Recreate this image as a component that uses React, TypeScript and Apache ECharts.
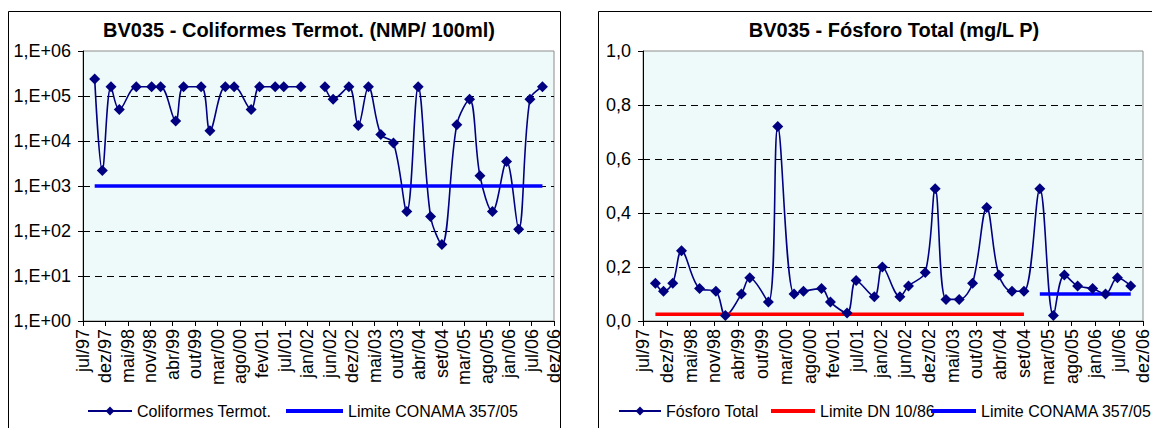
import React, { useEffect, useRef } from "react";
import * as echarts from "echarts";

// ---------- data ----------
const BASE_DATE = "1997-07-01"; // axis origin (jul/97)
const TICK_STEP_DAYS = 165;
const AXIS_END_DAYS = 3465; // dez/06

const tickLabels = [
  "jul/97", "dez/97", "mai/98", "nov/98", "abr/99", "out/99", "mar/00", "ago/00",
  "fev/01", "jul/01", "jan/02", "jun/02", "dez/02", "mai/03", "out/03", "abr/04",
  "set/04", "mar/05", "ago/05", "jan/06", "jul/06", "dez/06",
];

const sampleDates = [
  "1997-09-25", "1997-11-20", "1998-01-23", "1998-03-25", "1998-07-28", "1998-11-18",
  "1999-01-23", "1999-05-14", "1999-07-11", "1999-11-17", "2000-01-21", "2000-05-13",
  "2000-07-17", "2000-11-19", "2001-01-20", "2001-05-15", "2001-07-17", "2001-11-20",
  "2002-01-15", "2002-05-16", "2002-07-15", "2002-11-08", "2003-01-16", "2003-04-01",
  "2003-07-01", "2003-10-02", "2004-01-08", "2004-04-01", "2004-07-01", "2004-09-22",
  "2005-01-10", "2005-04-14", "2005-06-29", "2005-09-29", "2006-01-11", "2006-04-10",
  "2006-07-02", "2006-10-02",
];

const coliformes: (number | null)[] = [
  240000, 2200, 160000, 50000, 160000, 160000,
  160000, 28000, 160000, 160000, 17000, 160000,
  160000, 50000, 160000, 160000, 160000, 160000,
  null, 160000, 85000, 160000, 22000, 160000,
  14000, 9000, 270, 160000, 210, 50,
  23000, 85000, 1700, 270, 3500, 110,
  85000, 160000,
];

const fosforo = [
  0.14, 0.11, 0.14, 0.26, 0.12, 0.11,
  0.02, 0.10, 0.16, 0.07, 0.72, 0.10,
  0.11, 0.12, 0.07, 0.03, 0.15, 0.09,
  0.20, 0.09, 0.13, 0.18, 0.49, 0.08,
  0.08, 0.14, 0.42, 0.17, 0.11, 0.11,
  0.49, 0.02, 0.17, 0.13, 0.12, 0.10,
  0.16, 0.13,
];

const coliConamaLimit = 1000;
const coliConamaDates = ["1997-09-25", "2006-10-02"];
const fosDnLimit = 0.025;
const fosDnDates = ["1997-09-25", "2004-09-22"];
const fosConamaLimit = 0.1;
const fosConamaDates = ["2005-01-10", "2006-10-02"];

const yTicksFosforo = ["0,0", "0,2", "0,4", "0,6", "0,8", "1,0"];

// ---------- helpers ----------
const dayOf = (d: string) =>
  Math.round((Date.parse(d) - Date.parse(BASE_DATE)) / 86400000);

const FONT = "'Liberation Sans', Arial, sans-serif";
const NAVY = "#000080";

const xAxisFor = (gridIndex: number) => ({
  type: "value",
  gridIndex,
  min: 0,
  max: AXIS_END_DAYS,
  interval: TICK_STEP_DAYS,
  axisLine: { show: true, onZero: false, lineStyle: { color: "#000", width: 1 } },
  axisTick: { show: true, length: 5, lineStyle: { color: "#000" } },
  axisLabel: {
    rotate: 90,
    margin: 8,
    fontSize: 18,
    fontFamily: FONT,
    color: "#000",
    showMinLabel: true,
    showMaxLabel: true,
    formatter: (v: number) => tickLabels[Math.round(v / TICK_STEP_DAYS)] ?? "",
  },
  splitLine: { show: false },
});

const splitDash = {
  show: true,
  showMinLine: false,
  showMaxLine: false,
  lineStyle: { color: "#000", type: [7, 5], width: 1 },
};

const gridBase = {
  show: true,
  backgroundColor: "#EEFAFA",
  borderColor: "#8C8C8C",
  borderWidth: 1,
};

const legendFor = (name: string, left: number, itemWidth: number, isLimit: boolean) => ({
  data: [isLimit ? { name, icon: "rect" } : { name }],
  left,
  top: 403,
  itemWidth,
  itemHeight: isLimit ? 4 : 11,
  itemGap: 0,
  padding: 0,
  selectedMode: false,
  textStyle: { fontSize: 16, fontFamily: FONT, color: "#000" },
});

export default function App() {
  const ref = useRef<HTMLDivElement>(null);

  useEffect(() => {
    if (!ref.current) return;
    const chart = echarts.init(ref.current, undefined, { renderer: "svg" });

    const option = {
      animation: false,
      backgroundColor: "#fff",
      textStyle: { fontFamily: FONT },
      grid: [
        { ...gridBase, left: 83, top: 51, width: 471, height: 270 },
        { ...gridBase, left: 643, top: 51, width: 504, height: 270 },
      ],
      xAxis: [xAxisFor(0), xAxisFor(1)],
      yAxis: [
        {
          type: "log",
          gridIndex: 0,
          logBase: 10,
          min: 1,
          max: 1e6,
          axisLine: { show: true, lineStyle: { color: "#000" } },
          axisTick: { show: true, length: 5, lineStyle: { color: "#000" } },
          axisLabel: {
            fontSize: 18,
            fontFamily: FONT,
            color: "#000",
            margin: 12,
            formatter: (v: number) =>
              "1,E+" + String(Math.round(Math.log10(v))).padStart(2, "0"),
          },
          splitLine: splitDash,
        },
        {
          type: "value",
          gridIndex: 1,
          min: 0,
          max: 1,
          interval: 0.2,
          axisLine: { show: true, lineStyle: { color: "#000" } },
          axisTick: { show: true, length: 5, lineStyle: { color: "#000" } },
          axisLabel: {
            fontSize: 18,
            fontFamily: FONT,
            color: "#000",
            margin: 12,
            formatter: (v: number) => yTicksFosforo[Math.round(v / 0.2)] ?? "",
          },
          splitLine: splitDash,
        },
      ],
      legend: [
        legendFor("Coliformes Termot.", 87, 44, false),
        legendFor("Limite CONAMA 357/05", 286, 57, true),
        legendFor("Fósforo Total", 618, 42, false),
        legendFor("Limite DN 10/86", 771, 44, true),
        legendFor("Limite CONAMA 357/05", 931, 45, true),
      ],
      series: [
        {
          name: "Coliformes Termot.",
          type: "line",
          xAxisIndex: 0,
          yAxisIndex: 0,
          data: sampleDates.map((d, i) => [dayOf(d), coliformes[i]]),
          smooth: 0.35,
          connectNulls: false,
          symbol: "diamond",
          symbolSize: 11,
          itemStyle: { color: NAVY },
          lineStyle: { color: NAVY, width: 1.6 },
        },
        {
          name: "Limite CONAMA 357/05",
          type: "line",
          xAxisIndex: 0,
          yAxisIndex: 0,
          data: coliConamaDates.map((d) => [dayOf(d), coliConamaLimit]),
          symbol: "none",
          itemStyle: { color: "#0000FF" },
          lineStyle: { color: "#0000FF", width: 3.5 },
        },
        {
          name: "Fósforo Total",
          type: "line",
          xAxisIndex: 1,
          yAxisIndex: 1,
          data: sampleDates.map((d, i) => [dayOf(d), fosforo[i]]),
          smooth: 0.35,
          symbol: "diamond",
          symbolSize: 11,
          itemStyle: { color: NAVY },
          lineStyle: { color: NAVY, width: 1.6 },
        },
        {
          name: "Limite DN 10/86",
          type: "line",
          xAxisIndex: 1,
          yAxisIndex: 1,
          data: fosDnDates.map((d) => [dayOf(d), fosDnLimit]),
          symbol: "none",
          itemStyle: { color: "#FF0000" },
          lineStyle: { color: "#FF0000", width: 3.5 },
        },
        {
          name: "Limite CONAMA 357/05",
          type: "line",
          xAxisIndex: 1,
          yAxisIndex: 1,
          data: fosConamaDates.map((d) => [dayOf(d), fosConamaLimit]),
          symbol: "none",
          itemStyle: { color: "#0000FF" },
          lineStyle: { color: "#0000FF", width: 3.5 },
        },
      ],
      graphic: [
        {
          type: "rect",
          silent: true,
          z: -10,
          shape: { x: 8.5, y: 11.5, width: 552, height: 440 },
          style: { fill: "none", stroke: "#000", lineWidth: 1 },
        },
        {
          type: "rect",
          silent: true,
          z: -10,
          shape: { x: 598.5, y: 11.5, width: 600, height: 440 },
          style: { fill: "none", stroke: "#000", lineWidth: 1 },
        },
        {
          type: "text",
          x: 299,
          y: 30,
          style: {
            text: "BV035 - Coliformes Termot. (NMP/ 100ml)",
            fontSize: 20,
            fontWeight: "bold",
            fontFamily: FONT,
            fill: "#000",
            align: "center",
            verticalAlign: "middle",
          },
        },
        {
          type: "text",
          x: 894,
          y: 30,
          style: {
            text: "BV035 - Fósforo Total (mg/L P)",
            fontSize: 20,
            fontWeight: "bold",
            fontFamily: FONT,
            fill: "#000",
            align: "center",
            verticalAlign: "middle",
          },
        },
      ],
    };

    chart.setOption(option as any);
    return () => chart.dispose();
  }, []);

  return (
    <div
      ref={ref}
      style={{ position: "absolute", left: 0, top: 0, width: 1152, height: 428 }}
    />
  );
}
